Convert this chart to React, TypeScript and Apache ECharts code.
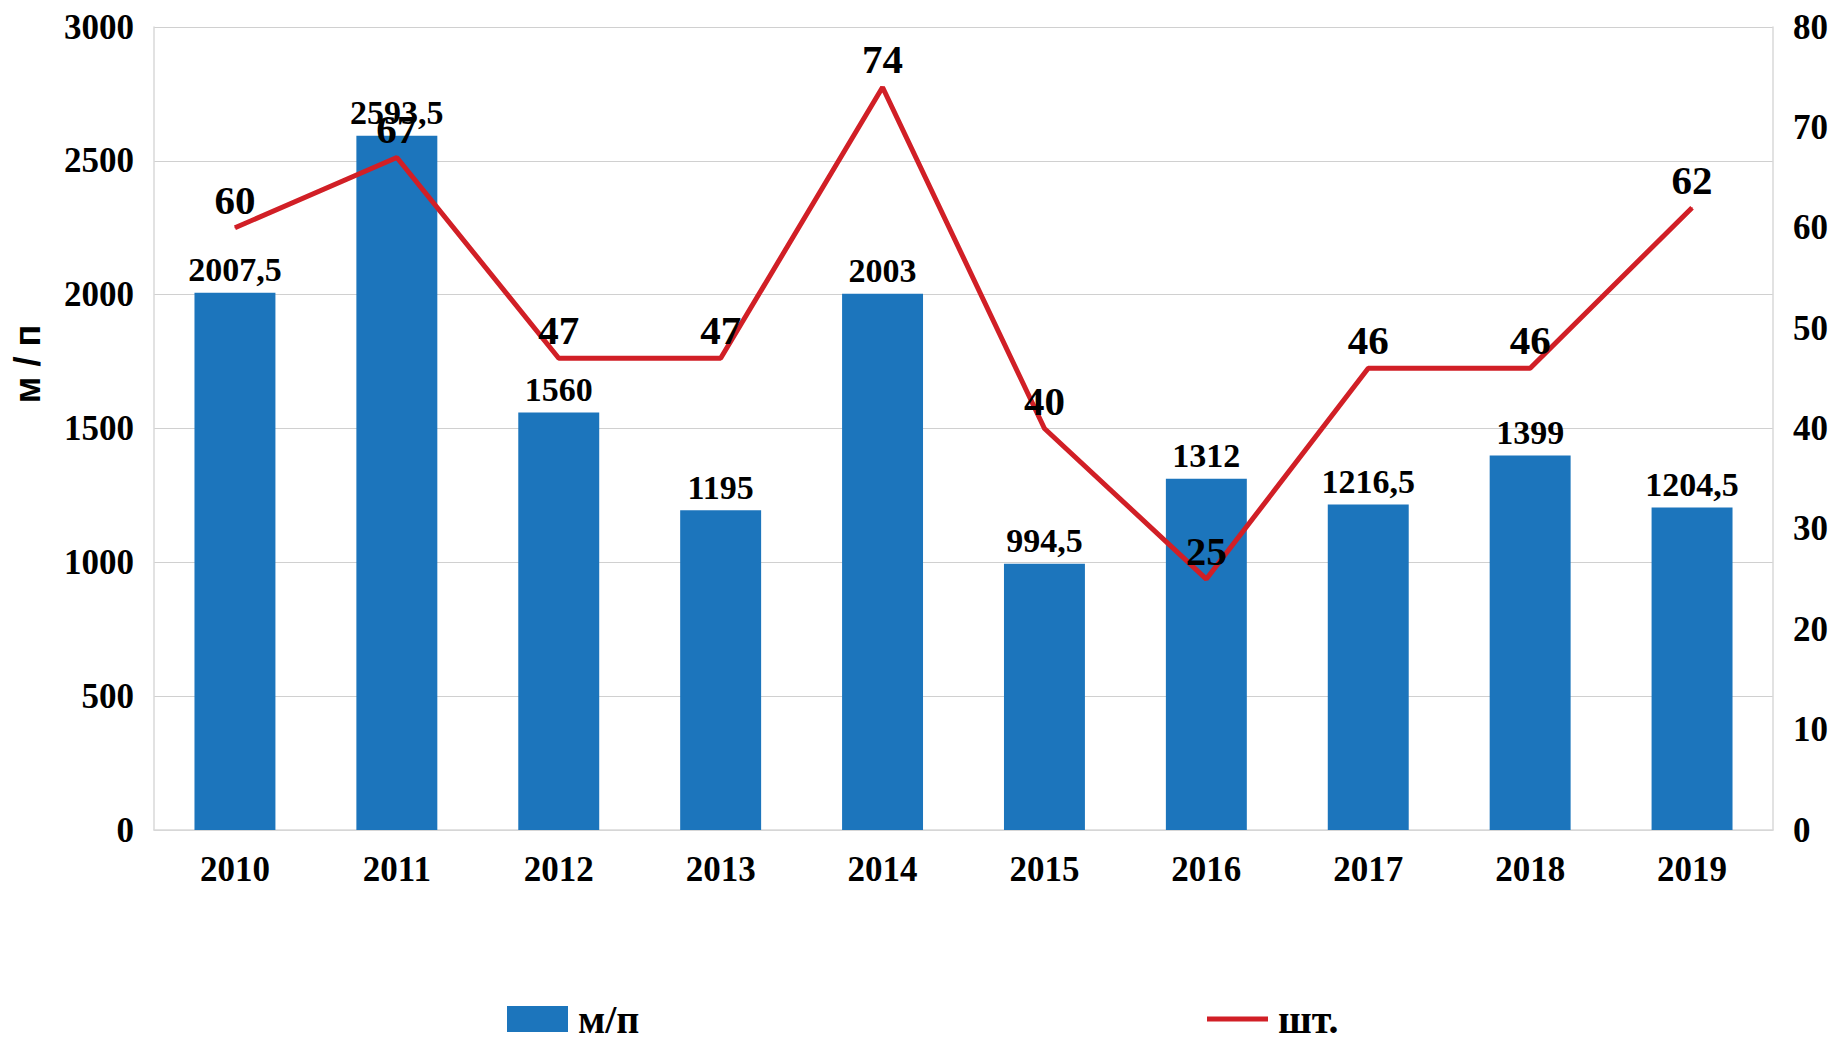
import React, { useEffect, useRef } from "react";
import * as echarts from "echarts";

const years = ["2010", "2011", "2012", "2013", "2014", "2015", "2016", "2017", "2018", "2019"];
const lengthValues = [2007.5, 2593.5, 1560, 1195, 2003, 994.5, 1312, 1216.5, 1399, 1204.5];
const countValues = [60, 67, 47, 47, 74, 40, 25, 46, 46, 62];
const leftTicks = { min: 0, max: 3000, interval: 500 };
const rightTicks = { min: 0, max: 80, interval: 10 };

const SERIF = "'Liberation Serif', 'Times New Roman', serif";
const BLUE = "#1c75bc";
const RED = "#d11f26";

export default function App() {
  const ref = useRef<HTMLDivElement>(null);
  useEffect(() => {
    if (!ref.current) return;
    const chart = echarts.init(ref.current, undefined, { renderer: "svg" });
    const legendText = {
      fontFamily: SERIF,
      fontWeight: "bold",
      fontSize: 40,
      color: "#000",
      padding: [0, 0, 0, 5],
    };
    chart.setOption({
      animation: false,
      backgroundColor: "#ffffff",
      grid: { left: 154, right: 59, top: 27, bottom: 207, containLabel: false },
      legend: [
        {
          left: 507,
          top: 999,
          padding: 0,
          itemWidth: 61,
          itemHeight: 26,
          data: [{ name: "м/п", icon: "rect" }],
          textStyle: legendText,
        },
        {
          left: 1207,
          top: 999,
          padding: 0,
          itemWidth: 61,
          itemHeight: 26,
          data: [{ name: "шт.", icon: "path://M0,0 L61,0 L61,5 L0,5 Z" }],
          textStyle: legendText,
        },
      ],
      graphic: [
        {
          type: "text",
          x: 27,
          y: 364,
          rotation: Math.PI / 2,
          style: {
            text: "м / п",
            fontFamily: "'Liberation Sans', Arial, sans-serif",
            fontWeight: "bold",
            fontSize: 36,
            fill: "#000",
            align: "center",
            verticalAlign: "middle",
          },
        },
      ],
      xAxis: {
        type: "category",
        data: years,
        axisLine: { show: true, lineStyle: { color: "#d9d9d9", width: 1.5 } },
        axisTick: { show: false },
        axisLabel: { fontFamily: SERIF, fontWeight: "bold", fontSize: 35, color: "#000", margin: 22 },
      },
      yAxis: [
        {
          type: "value",
          ...leftTicks,
          axisLine: { show: true, lineStyle: { color: "#d9d9d9", width: 1.5 } },
          axisTick: { show: false },
          splitLine: { show: true, lineStyle: { color: "#d0d0d0", width: 1 } },
          axisLabel: {
            fontFamily: SERIF,
            fontWeight: "bold",
            fontSize: 35,
            color: "#000",
            margin: 20,
            formatter: (v: number) => String(v),
          },
        },
        {
          type: "value",
          position: "right",
          ...rightTicks,
          axisLine: { show: true, lineStyle: { color: "#d9d9d9", width: 1.5 } },
          axisTick: { show: false },
          splitLine: { show: false },
          axisLabel: {
            fontFamily: SERIF,
            fontWeight: "bold",
            fontSize: 35,
            color: "#000",
            margin: 20,
            formatter: (v: number) => String(v),
          },
        },
      ],
      series: [
        {
          name: "м/п",
          type: "bar",
          data: lengthValues,
          barWidth: "50%",
          itemStyle: { color: BLUE },
          label: {
            show: true,
            position: "top",
            distance: 6,
            fontFamily: SERIF,
            fontWeight: "bold",
            fontSize: 34,
            color: "#000",
            formatter: (p: any) => String(p.value).replace(".", ","),
          },
        },
        {
          name: "шт.",
          type: "line",
          yAxisIndex: 1,
          data: countValues,
          symbol: "circle",
          symbolSize: 1,
          itemStyle: { color: RED },
          lineStyle: { color: RED, width: 5 },
          z: 3,
          label: {
            show: true,
            position: "top",
            distance: 7,
            fontFamily: SERIF,
            fontWeight: "bold",
            fontSize: 41,
            color: "#000",
          },
        },
      ],
    });
    return () => chart.dispose();
  }, []);
  return (
    <div
      ref={ref}
      style={{ position: "fixed", left: 0, top: 0, width: 1832, height: 1037, background: "#fff" }}
    />
  );
}
